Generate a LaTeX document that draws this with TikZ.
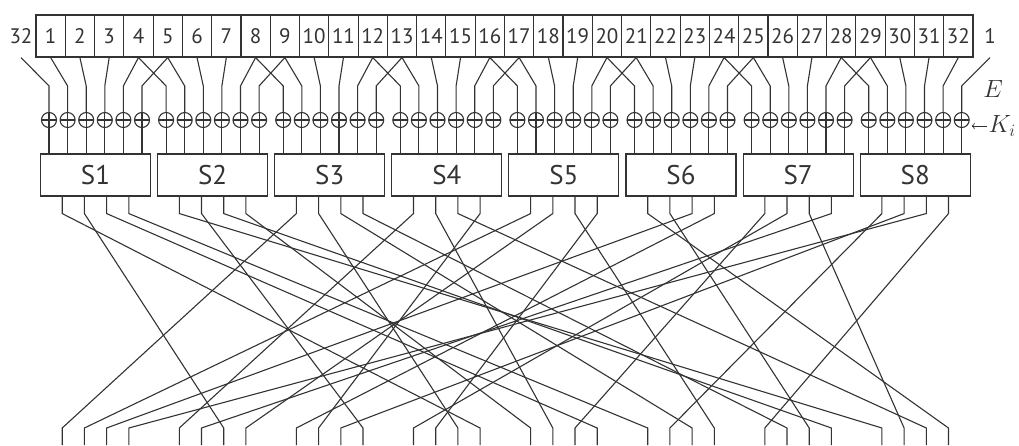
\documentclass[tikz,border=0pt]{standalone}
\usepackage{fontspec}
\setmainfont{PT Sans}
\usepackage{amsmath}
\usetikzlibrary{
    arrows.meta,    % 箭头
    calc            % 坐标计算
}

\tikzset{
    bitbox/.style={draw, minimum width=29.28pt, minimum height=42pt,
        inner sep=0pt, font=\fontsize{21}{21}\selectfont},
    xorc/.style={draw, circle, minimum size=15pt, inner sep=0pt,
        path picture={
            \draw (path picture bounding box.north) -- (path picture bounding box.south)
                  (path picture bounding box.west) -- (path picture bounding box.east);
        }},
    sbox/.style={draw, minimum width=110pt, minimum height=42pt,
        inner sep=0pt, font=\fontsize{27}{27}\selectfont}
}

\begin{document}
\begin{tikzpicture}[
    x=1pt, y=-1pt,
    line width=1.1pt,
    color=black!80
]
    \useasboundingbox (0,0) rectangle (1019,445);

    % 上方 32 位输入
    \foreach \i in {1,...,32}
        \node[bitbox] (b\i) at ({36+29.28*(\i-0.5)},36) {\i};
    \node[bitbox, draw=none] (b0) at (21,36) {32};
    \node[bitbox, draw=none] (b33) at (990,36) {1};

    % 扩展置换 E 与异或
    \foreach \j in {0,...,7}{
        \foreach \k in {0,...,5}{
            \pgfmathtruncatemacro{\bit}{4*\j+\k}
            \node[xorc] (x\j\k) at ({49+117.1*\j+18.6*\k},120) {};
            \draw (b\bit.south) -- ([yshift=26pt]x\j\k.north) -- (x\j\k.north);
        }
    }

    % S 盒
    \foreach \j in {0,...,7}{
        \pgfmathtruncatemacro{\s}{\j+1}
        \node[sbox] (S\s) at ({95.5+117.1*\j},175) {S\s};
        \foreach \k in {0,...,5}
            \draw (x\j\k.south) -- (x\j\k.south |- S\s.north);
    }

    % 标签 E 和 K_i
    \node[font=\fontsize{23}{23}\selectfont] (E) at (993,89) {$E$};
    \node[anchor=west, inner sep=1pt, font=\fontsize{23}{23}\selectfont] (K) at (987,126) {$K_i$};
    \draw[-{To[length=3pt]}, line width=0.7pt, shorten >=2pt] (K.west) -- (K.west -| x75.east);

    % 置换 P
    \foreach \n in {1,...,32}
        \coordinate (p\n) at ({95.5+117.1*div(\n-1,4)-33.3+22.2*mod(\n-1,4)},445);
    \foreach \i/\p in {1/16, 2/7, 3/20, 4/21, 5/29, 6/12, 7/28, 8/17,
                       9/1, 10/15, 11/23, 12/26, 13/5, 14/18, 15/31, 16/10,
                       17/2, 18/8, 19/24, 20/14, 21/32, 22/27, 23/3, 24/9,
                       25/19, 26/13, 27/30, 28/6, 29/22, 30/11, 31/4, 32/25}{
        \pgfmathtruncatemacro{\s}{div(\i-1,4)+1}
        \pgfmathsetmacro{\dx}{-33.3+22.2*mod(\i-1,4)}
        \coordinate (o\i) at ([xshift=\dx pt]S\s.south);
        \draw (o\i) -- ++(0,17) -- ([yshift=17pt]p\p) -- (p\p);
    }
\end{tikzpicture}
\end{document}
